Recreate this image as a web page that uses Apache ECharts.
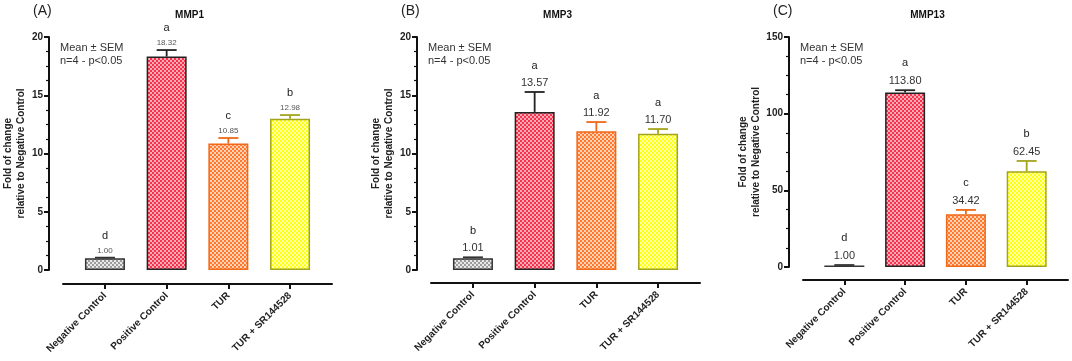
<!DOCTYPE html>
<html>
<head>
<meta charset="utf-8">
<script src="https://cdn.jsdelivr.net/npm/echarts@6/dist/echarts.min.js"></script>
<style>
  html, body { margin: 0; padding: 0; background: #fff; }
  #main { width: 1072px; height: 361px; }
</style>
</head>
<body>
<div id="main"></div>
<script>
// data
var categories = ['Negative Control', 'Positive Control', 'TUR', 'TUR + SR144528'];

var mmp1Mean = [1.00, 18.32, 10.85, 12.98];
var mmp1Sem = [0.06, 0.56, 0.48, 0.32];
var mmp1Letters = ['d', 'a', 'c', 'b'];

var mmp3Mean = [1.01, 13.57, 11.92, 11.70];
var mmp3Sem = [0.08, 1.71, 0.78, 0.40];
var mmp3Letters = ['b', 'a', 'a', 'a'];

var mmp13Mean = [1.00, 113.80, 34.42, 62.45];
var mmp13Sem = [0.3, 1.5, 2.8, 6.7];
var mmp13Letters = ['d', 'a', 'c', 'b'];

var panelTitles = ['MMP1', 'MMP3', 'MMP13'];
var panelTags = ['(A)', '(B)', '(C)'];
var yMax = [20, 20, 150];
var yStep = [5, 5, 50];

var FONT = '"Liberation Sans", Arial, sans-serif';

function pattern(c1, c2) {
  var cv = document.createElement('canvas');
  cv.width = 4; cv.height = 4;
  var ctx = cv.getContext('2d');
  ctx.fillStyle = c2; ctx.fillRect(0, 0, 4, 4);
  ctx.fillStyle = c1;
  ctx.fillRect(0, 0, 2, 2);
  ctx.fillRect(2, 2, 2, 2);
  return { image: cv, repeat: 'repeat' };
}

var fills = [
  pattern('#9c9c9c', '#e8e8e8'),
  pattern('#f5324f', '#ffaab2'),
  pattern('#ff7a30', '#ffd2b4'),
  pattern('#ffff10', '#ffffa8')
];
var borders = ['#333333', '#222222', '#f06818', '#a4a41c'];

var panels = [
  { mean: mmp1Mean, sem: mmp1Sem, letters: mmp1Letters, left: 63, width: 269, height: 233, xOff: 14,
    valFont: 8, valColor: '#555', valGap: 7, letGap: 15 },
  { mean: mmp3Mean, sem: mmp3Sem, letters: mmp3Letters, left: 431, width: 269, height: 233, xOff: 13,
    valFont: 11, valColor: '#333', valGap: 9, letGap: 17 },
  { mean: mmp13Mean, sem: mmp13Sem, letters: mmp13Letters, left: 803, width: 265, height: 230, xOff: 13,
    valFont: 11, valColor: '#333', valGap: 9, letGap: 18 }
];

var grids = [], xAxes = [], yAxes = [], series = [], graphics = [];

panels.forEach(function (p, i) {
  grids.push({ left: p.left, width: p.width, top: 37, height: p.height });

  xAxes.push({
    type: 'value', gridIndex: i, min: -0.68, max: 3.68, offset: p.xOff, position: 'bottom',
    axisLine: { show: true, onZero: false, lineStyle: { color: '#111', width: 2 } },
    axisTick: { show: true, length: 5, lineStyle: { color: '#111', width: 2 }, customValues: [0, 1, 2, 3] },
    axisLabel: {
      customValues: [0, 1, 2, 3], rotate: 45, margin: 10,
      formatter: function (v) { return categories[Math.round(v)]; },
      fontFamily: FONT, fontSize: 10, fontWeight: 'bold', color: '#222'
    },
    splitLine: { show: false }
  });

  yAxes.push({
    type: 'value', gridIndex: i, min: 0, max: yMax[i], interval: yStep[i], offset: 14, position: 'left',
    name: 'Fold of change\nrelative to Negative Control',
    nameLocation: 'middle', nameGap: 21,
    nameTextStyle: { fontFamily: FONT, fontSize: 10, fontWeight: 'bold', color: '#222', lineHeight: 13 },
    axisLine: { show: true, onZero: false, lineStyle: { color: '#111', width: 2 } },
    axisTick: { show: true, length: 5, lineStyle: { color: '#111', width: 2 } },
    minorTick: { show: true, splitNumber: 4, length: 3, lineStyle: { color: '#111', width: 1.2 } },
    axisLabel: { fontFamily: FONT, fontSize: 10, fontWeight: 'bold', color: '#222', margin: 6 },
    splitLine: { show: false }
  });

  series.push({
    type: 'bar', xAxisIndex: i, yAxisIndex: i, barWidth: 40,
    data: p.mean.map(function (v, k) {
      return { value: [k, v], itemStyle: { color: fills[k], borderColor: borders[k], borderWidth: 1.5 } };
    }),
    silent: true
  });

  series.push({
    type: 'custom', xAxisIndex: i, yAxisIndex: i, clip: false, silent: true,
    data: p.mean.map(function (v, k) { return [k, v, p.sem[k]]; }),
    renderItem: function (params, api) {
      var k = params.dataIndex;
      var x = api.value(0), m = api.value(1), s = api.value(2);
      var base = api.coord([x, m]);
      var top = api.coord([x, m + s]);
      var col = borders[k];
      var ls = { stroke: col, lineWidth: 1.8 };
      var vy = top[1] - p.valGap;
      return {
        type: 'group',
        children: [
          { type: 'line', shape: { x1: base[0], y1: base[1], x2: top[0], y2: top[1] }, style: ls },
          { type: 'line', shape: { x1: top[0] - 10, y1: top[1], x2: top[0] + 10, y2: top[1] }, style: ls },
          { type: 'text', style: { text: p.mean[k].toFixed(2), x: top[0], y: vy, align: 'center', verticalAlign: 'middle',
              fontFamily: FONT, fontSize: p.valFont, fill: p.valColor } },
          { type: 'text', style: { text: p.letters[k], x: top[0], y: vy - p.letGap, align: 'center', verticalAlign: 'middle',
              fontFamily: FONT, fontSize: 11, fill: '#222' } }
        ]
      };
    }
  });

  var axisX = p.left - 14;
  graphics.push({
    type: 'text', left: axisX - 16, top: 4,
    style: { text: panelTags[i], fontFamily: FONT, fontSize: 14, fill: '#222' }
  });
  graphics.push({
    type: 'text', x: p.left + p.width / 2 - 8, y: 15,
    style: { text: panelTitles[i], align: 'center', verticalAlign: 'middle', fontFamily: FONT,
      fontSize: 10, fontWeight: 'bold', fill: '#111' }
  });
  graphics.push({
    type: 'text', left: axisX + 11, top: 41,
    style: { text: 'Mean ± SEM\nn=4 - p<0.05', fontFamily: FONT, fontSize: 11, lineHeight: 13, fill: '#333' }
  });
});

var chart = echarts.init(document.getElementById('main'));
chart.setOption({
  animation: false,
  backgroundColor: '#fff',
  grid: grids,
  xAxis: xAxes,
  yAxis: yAxes,
  series: series,
  graphic: graphics
});
</script>
</body>
</html>
